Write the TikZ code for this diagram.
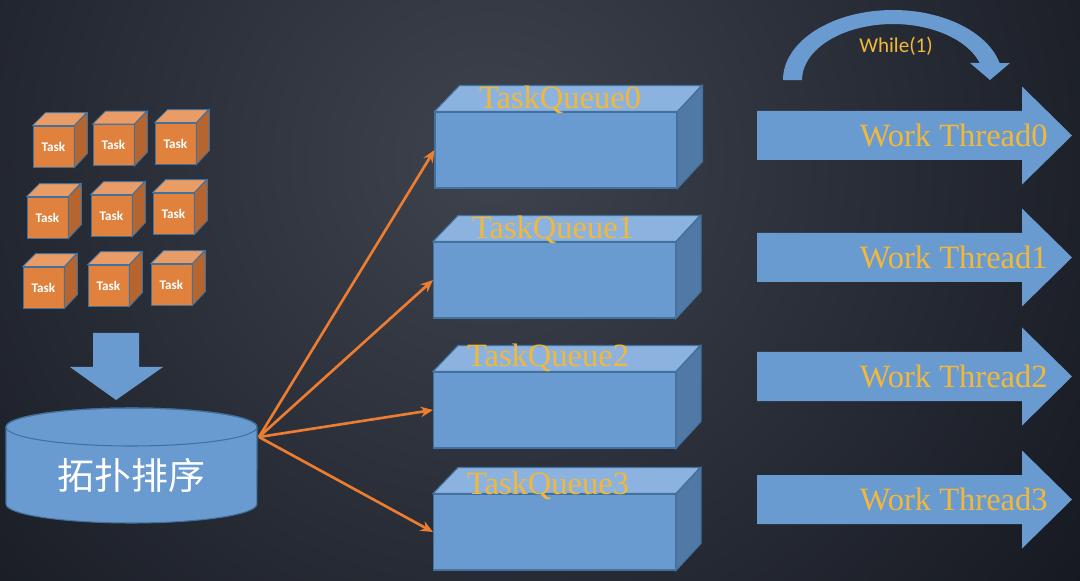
\documentclass[tikz,border=0pt]{standalone}
\usepackage{fontspec}
\setmainfont{Liberation Serif}
\newfontfamily\cjkfont{Noto Sans CJK SC}
\newfontfamily\calfont{Carlito}
\usetikzlibrary{arrows.meta}

\definecolor{bgdark}{HTML}{0F121A}
\definecolor{bglight}{HTML}{3E434E}
\definecolor{cubefront}{HTML}{E0823E}
\definecolor{cubetop}{HTML}{E99C66}
\definecolor{cubeside}{HTML}{B6652E}
\definecolor{edgeblue}{HTML}{41719C}
\definecolor{boxfront}{HTML}{6A9BD0}
\definecolor{boxtop}{HTML}{8CB3DF}
\definecolor{boxside}{HTML}{5079A6}
\definecolor{linkorange}{HTML}{ED7D31}
\definecolor{labelgold}{HTML}{F2B83A}

\begin{document}
\begin{tikzpicture}[x=0.02cm,y=-0.02cm,
  task/.style={draw=edgeblue,fill=cubefront,line width=0.5pt,minimum size=0.82cm,
               inner sep=0pt,text=white,font=\calfont\bfseries\fontsize{7.5}{8}\selectfont},
  queue/.style={draw=edgeblue,fill=boxfront,line width=0.6pt,minimum width=4.84cm,
                minimum height=1.52cm,inner sep=0pt},
  gold/.style={text=labelgold,inner sep=0pt},
  link/.style={-{Stealth[length=7pt,width=6pt]},linkorange,line width=1.5pt}]

  % Background
  \fill[bgdark] (0,0) rectangle (1080,581);
  \begin{scope}
    \clip (0,0) rectangle (1080,581);
    \shade[inner color=bglight,outer color=bgdark] (490,160) circle[radius=17cm];
  \end{scope}
  \useasboundingbox (0,0) rectangle (1080,581);

  % Task cubes
  \foreach \x/\y [count=\k] in {53.5/146.5,113.5/145,175.5/143.5,
                                47.5/217.5,111.5/215.5,173.5/213.5,
                                43.5/287.5,108.5/285.5,171.5/284.5}{
    \node[task] (t\k) at (\x,\y) {Task};
    \filldraw[fill=cubetop,draw=edgeblue,line width=0.5pt]
      (t\k.north west) -- ++(13,-13) -- ++(41,0) -- (t\k.north east) -- cycle;
    \filldraw[fill=cubeside,draw=edgeblue,line width=0.5pt]
      (t\k.north east) -- ++(13,-13) -- ++(0,41) -- (t\k.south east) -- cycle;
  }

  % Down arrow
  \fill[boxfront] (93,333) -- (139,333) -- (139,367) -- (163,367) -- (116,400)
    -- (70,367) -- (93,367) -- cycle;

  % Sorting cylinder
  \filldraw[fill=boxfront,draw=edgeblue,line width=0.6pt]
    (6,427) -- (6,504) arc[start angle=180,end angle=360,x radius=2.51cm,y radius=0.38cm]
    -- (257,427) arc[start angle=0,end angle=180,x radius=2.51cm,y radius=0.38cm] -- cycle;
  \draw[edgeblue,line width=0.6pt] (131.5,427) ellipse[x radius=2.51cm,y radius=0.38cm];
  \node[text=white,inner sep=0pt,font=\cjkfont\fontsize{21}{24}\selectfont]
    (sort) at (131.5,475) {拓扑排序};
  \coordinate (sortout) at (259,437);

  % Task queues
  \foreach \x/\y/\lx/\ly [count=\k from 0] in {556/150/560/100,554.5/280/553/230,
                                               554.5/410/548/358,554.5/532/548/486}{
    \node[queue] (q\k) at (\x,\y) {};
    \filldraw[fill=boxtop,draw=edgeblue,line width=0.6pt]
      (q\k.north west) -- ++(25,-26) -- ++(242,0) -- (q\k.north east) -- cycle;
    \filldraw[fill=boxside,draw=edgeblue,line width=0.6pt]
      (q\k.north east) -- ++(25,-26) -- ++(0,76) -- (q\k.south east) -- cycle;
    \node[gold,font=\fontsize{18.5}{20}\selectfont] (ql\k) at (\lx,\ly) {TaskQueue\k};
    \draw[link] (sortout) -- (q\k.west);
  }

  % Work threads
  \foreach \y [count=\k from 0] in {135.5,257.5,376.5,499.5}{
    \fill[boxfront] (757,\y-24.5) -- (1022,\y-24.5) -- (1022,\y-49) -- (1072,\y)
      -- (1022,\y+49) -- (1022,\y+24.5) -- (757,\y+24.5) -- cycle;
    \node[gold,anchor=east,font=\fontsize{18.5}{20}\selectfont] (w\k) at (1048,\y) {Work Thread\k};
  }

  % Loop arrow
  \fill[boxfront] (783,80) arc[start angle=180,end angle=14,x radius=2.2cm,y radius=1.4cm]
    -- (1010,63) -- (990,80) -- (970,63) -- (979.7,63)
    arc[start angle=17.7,end angle=180,x radius=1.82cm,y radius=1.12cm] -- cycle;
  \node[gold,font=\calfont\fontsize{12}{14}\selectfont] (loop) at (896,46) {While(1)};
\end{tikzpicture}
\end{document}
